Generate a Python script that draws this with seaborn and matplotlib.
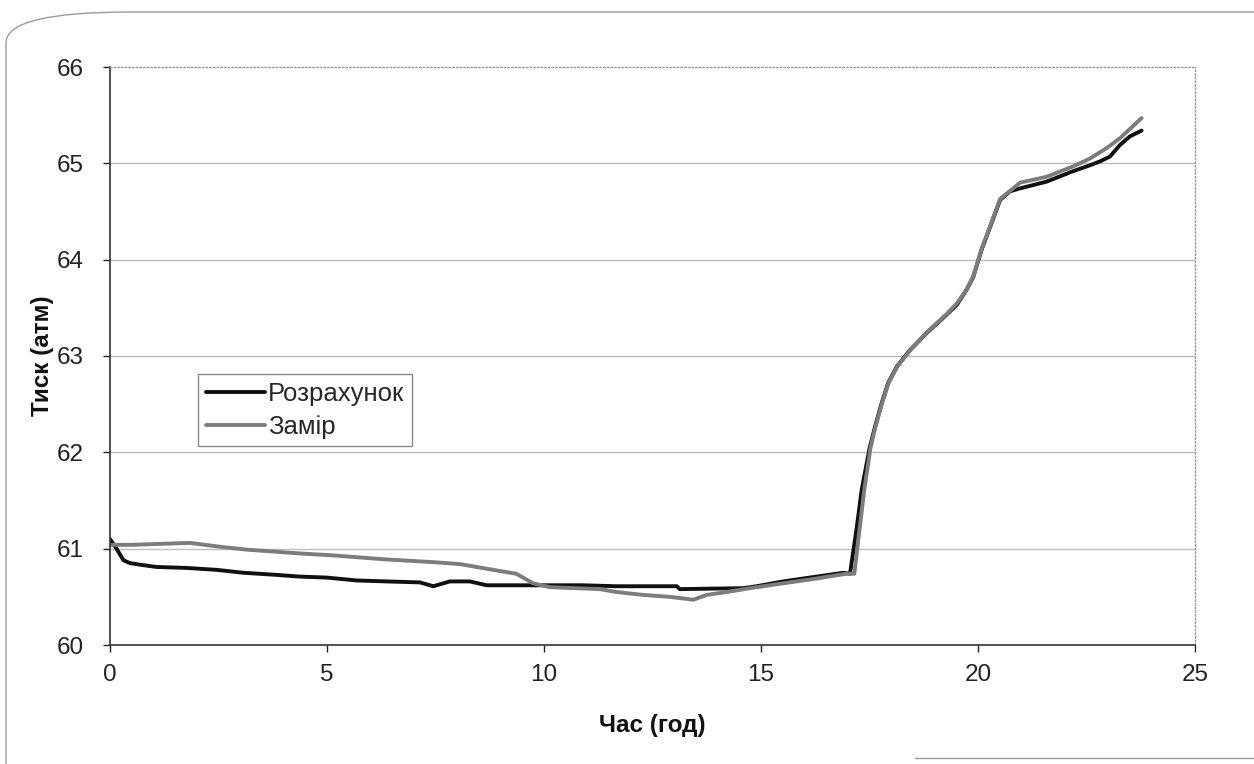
import numpy as np
import pandas as pd
import matplotlib
matplotlib.use("Agg")
import matplotlib.pyplot as plt
from matplotlib.patches import PathPatch
from matplotlib.path import Path
from matplotlib.lines import Line2D
import seaborn as sns

# Розрахунок (calculated pressure)
t_calc = [0.0, 0.15, 0.31, 0.46, 0.75, 1.07, 1.77, 2.46, 3.07, 3.76, 4.38, 4.99,
          5.68, 6.37, 7.14, 7.45, 7.83, 8.29, 8.68, 9.75, 10.9, 11.67, 13.06, 13.13,
          14.59, 14.9, 15.51, 16.28, 16.9, 17.05, 17.2, 17.32, 17.5, 17.63, 17.78,
          17.93, 18.13, 18.43, 18.82, 19.28, 19.51, 19.74, 19.89, 20.08, 20.28,
          20.51, 20.74, 20.97, 21.58, 22.2, 22.58, 22.81, 23.04, 23.27, 23.5, 23.77]
p_calc = [61.10, 61.00, 60.88, 60.85, 60.83, 60.81, 60.80, 60.78, 60.75, 60.73, 60.71, 60.70,
          60.67, 60.66, 60.65, 60.61, 60.66, 60.66, 60.62, 60.62, 60.62, 60.61, 60.61, 60.58,
          60.59, 60.61, 60.66, 60.71, 60.75, 60.74, 61.20, 61.61, 62.04, 62.27, 62.51,
          62.72, 62.89, 63.06, 63.24, 63.43, 63.53, 63.69, 63.82, 64.10, 64.34,
          64.62, 64.71, 64.74, 64.81, 64.92, 64.98, 65.02, 65.07, 65.19, 65.28, 65.34]

# Замір (measured pressure)
t_meas = [0.0, 0.5, 1.84, 2.53, 3.15, 4.38, 5.15, 6.3, 7.45, 8.06, 8.83, 9.36, 9.75,
          10.14, 11.29, 11.67, 12.28, 12.9, 13.44, 13.75, 14.21, 14.75, 15.51, 16.28,
          16.97, 17.15, 17.27, 17.38, 17.52, 17.64, 17.79, 17.94, 18.14, 18.44, 18.83,
          19.29, 19.52, 19.75, 19.9, 20.09, 20.29, 20.51, 20.81, 20.97, 21.58, 22.2,
          22.58, 22.97, 23.27, 23.77]
p_meas = [61.04, 61.04, 61.06, 61.02, 60.99, 60.95, 60.93, 60.89, 60.86, 60.84, 60.78, 60.74, 60.64,
          60.60, 60.58, 60.55, 60.52, 60.50, 60.47, 60.52, 60.55, 60.59, 60.64, 60.69,
          60.74, 60.74, 61.20, 61.61, 62.04, 62.27, 62.51, 62.72, 62.89, 63.06, 63.25,
          63.44, 63.55, 63.70, 63.84, 64.12, 64.36, 64.63, 64.74, 64.80, 64.86, 64.97,
          65.05, 65.16, 65.26, 65.47]

series_names = ["Розрахунок", "Замір"]
x_ticks = [0, 5, 10, 15, 20, 25]
y_ticks = [60, 61, 62, 63, 64, 65, 66]

df = pd.concat([
    pd.DataFrame({"t": t_calc, "p": p_calc, "series": series_names[0]}),
    pd.DataFrame({"t": t_meas, "p": p_meas, "series": series_names[1]}),
], ignore_index=True)

sns.set_theme(style="white")
plt.rcParams["font.family"] = ["Liberation Sans", "DejaVu Sans"]

W, H = 1254, 764
fig = plt.figure(figsize=(W / 100, H / 100), dpi=100)
ax = fig.add_axes([110 / W, 1 - 645 / H, (1195 - 110) / W, (645 - 67) / H])


def fpt(x, y):
    """Pixel position (from top-left) to figure fraction."""
    return (x / W, 1 - y / H)


# chart-area frame: rounded top-left corner, left and top edges
frame_path = Path(
    [fpt(6, H + 5), fpt(6, 42), fpt(8, 12), fpt(130, 12), fpt(W + 5, 12)],
    [Path.MOVETO, Path.LINETO, Path.CURVE3, Path.CURVE3, Path.LINETO],
)
fig.patches.append(PathPatch(frame_path, transform=fig.transFigure, fill=False,
                             edgecolor="#9a9a9a", linewidth=1.0, zorder=0))
fig.add_artist(Line2D([915 / W, 1.0], [1 - 758 / H, 1 - 758 / H],
                      transform=fig.transFigure, color="#9a9a9a", linewidth=1.0))

for y in y_ticks[1:-1]:
    ax.axhline(y, color="#bdbdbd", linewidth=1.0, zorder=0)

sns.lineplot(data=df, x="t", y="p", hue="series", hue_order=series_names,
             palette={series_names[0]: "#101010", series_names[1]: "#7c7c7c"},
             estimator=None, sort=False, linewidth=2.8, ax=ax, legend=True)
for line, z in zip(ax.get_lines()[-2:], (3, 2)):
    line.set_zorder(z)

ax.set_xlim(0, 25)
ax.set_ylim(60, 66)
ax.set_xticks(x_ticks)
ax.set_yticks(y_ticks)
ax.tick_params(axis="both", labelsize=17.5, colors="#222222", length=5,
               width=1, direction="out")
ax.tick_params(axis="x", pad=9)
ax.tick_params(axis="y", pad=14)
ax.tick_params(left=True, bottom=True)

for s in ("left", "bottom"):
    ax.spines[s].set_color("#333333")
    ax.spines[s].set_linewidth(1.2)
for s in ("top", "right"):
    ax.spines[s].set_color("#999999")
    ax.spines[s].set_linewidth(1.0)
    ax.spines[s].set_linestyle(":")

ax.set_xlabel("Час (год)", fontsize=17.5, fontweight="bold", labelpad=20, color="#111111")
ax.set_ylabel("Тиск (атм)", fontsize=17.5, fontweight="bold", labelpad=2, color="#111111")

handles, labels = ax.get_legend_handles_labels()
leg = ax.legend(handles, labels, loc="upper left",
                bbox_to_anchor=((198 - 110) / 1085, (645 - 374) / 578),
                fontsize=18.5, frameon=True, fancybox=False, framealpha=1,
                edgecolor="#8a8a8a", handlelength=2.3, handletextpad=0.12,
                borderpad=0.3, labelspacing=0.35, borderaxespad=0)
leg.get_frame().set_linewidth(1.0)
for h in leg.get_lines():
    h.set_linewidth(2.8)

fig.savefig("out.png", dpi=100)
